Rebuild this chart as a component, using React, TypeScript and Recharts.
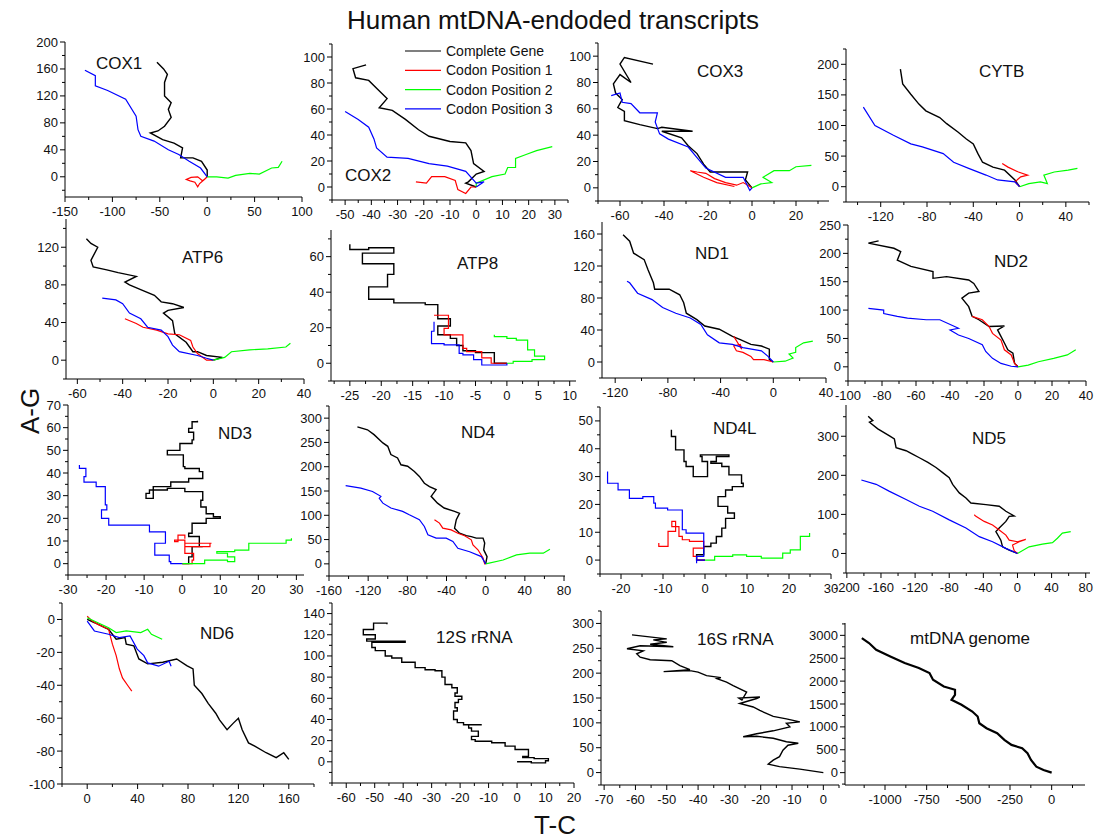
import { LineChart, Line, XAxis, YAxis } from 'recharts';

type Pt = [number, number];

// ---- series (T-C, A-G) ----
const cox1Gene: Pt[] = [[0,0],[0,10],[-6,23],[-15,28],[-28,28],[-26,43],[-35,50],[-47,55],[-60,65],[-52,68],[-45,75],[-38,88],[-41,100],[-38,110],[-45,120],[-45,140],[-42,152],[-46,160],[-53,170]];
const cox1Pos1: Pt[] = [[0,0],[-3,-4],[-8,-10],[-10,-15],[-13,-8],[-18,-6],[-22,-4],[-17,-1],[-10,0],[-5,-6],[-2,-3]];
const cox1Pos2: Pt[] = [[0,0],[10,0],[22,-2],[30,2],[45,5],[55,4],[68,13],[75,14],[79,23]];
const cox1Pos3: Pt[] = [[0,0],[-7,13],[-19,23],[-30,33],[-41,40],[-56,53],[-70,60],[-73,70],[-75,90],[-86,115],[-105,128],[-118,135],[-118,150],[-129,158]];

const cox2Gene: Pt[] = [[0,0],[-4,3],[-3,4],[0,10],[3,12],[-1,18],[-2,28],[-4,34],[-10,35],[-18,39],[-22,44],[-27,52],[-32,59],[-37,61],[-34,68],[-38,76],[-41,82],[-46,84],[-47,91],[-42,94]];
const cox2Pos1: Pt[] = [[0,0],[-2,0],[-4,-5],[-7,-2],[-8,5],[-12,8],[-17,8],[-19,3],[-23,4]];
const cox2Pos2: Pt[] = [[0,0],[0,3],[6,8],[11,10],[12,15],[15,15],[15,22],[19,25],[23,28],[29,31]];
const cox2Pos3: Pt[] = [[0,0],[3,4],[0,3],[-4,12],[-11,16],[-18,18],[-26,22],[-34,23],[-38,30],[-39,37],[-41,46],[-45,52],[-50,58]];

const cox3Gene: Pt[] = [[0,0],[-3,6],[-2,12],[-11,12],[-19,12],[-22,18],[-25,26],[-29,32],[-32,38],[-41,43],[-27,43],[-41,46],[-43,45],[-51,48],[-58,51],[-58,58],[-61,61],[-59,67],[-62,72],[-63,79],[-60,86],[-55,80],[-60,94],[-58,99],[-45,94]];
const cox3Pos1: Pt[] = [[0,0],[-4,4],[-7,2],[-12,4],[-17,7],[-21,11],[-25,12],[-28,13],[-22,8],[-16,4],[-8,1]];
const cox3Pos2: Pt[] = [[0,0],[4,3],[9,4],[5,8],[10,13],[17,13],[20,16],[27,17]];
const cox3Pos3: Pt[] = [[0,0],[-1,-2],[-4,8],[-12,8],[-21,15],[-25,23],[-29,31],[-38,37],[-42,41],[-44,50],[-43,57],[-51,57],[-55,64],[-59,65],[-60,72],[-64,70]];

const cytbGene: Pt[] = [[0,0],[-4,11],[-13,27],[-23,32],[-32,40],[-36,54],[-40,70],[-46,78],[-53,89],[-63,103],[-69,113],[-81,124],[-87,135],[-94,151],[-101,168],[-103,192]];
const cytbPos1: Pt[] = [[0,0],[-4,8],[1,16],[7,19],[-1,24],[-10,32],[-15,38]];
const cytbPos2: Pt[] = [[0,0],[8,5],[18,8],[24,5],[21,19],[30,24],[42,27],[50,30]];
const cytbPos3: Pt[] = [[0,0],[-4,8],[-19,11],[-29,19],[-44,30],[-57,40],[-66,54],[-84,65],[-94,70],[-109,84],[-125,100],[-135,130]];

const atp6Gene: Pt[] = [[0,0],[4,3],[-3,5],[-7,9],[-9,9],[-12,19],[-17,28],[-18,42],[-22,50],[-20,53],[-13,56],[-18,60],[-23,62],[-26,69],[-31,74],[-37,80],[-39,83],[-34,89],[-42,93],[-47,96],[-53,99],[-54,106],[-51,120],[-54,124],[-56,129]];
const atp6Pos1: Pt[] = [[0,0],[-3,0],[-7,7],[-9,14],[-10,21],[-15,27],[-20,28],[-25,32],[-31,35],[-34,39],[-39,44]];
const atp6Pos2: Pt[] = [[0,0],[5,3],[8,9],[16,11],[24,12],[32,14],[34,18]];
const atp6Pos3: Pt[] = [[0,0],[-3,2],[-7,5],[-15,9],[-18,16],[-20,25],[-23,32],[-29,35],[-32,44],[-37,50],[-40,60],[-43,64],[-49,66]];

const atp8Gene: Pt[] = [[0,0],[-2,0],[-2,6],[-5,7],[-7,10],[-8,14],[-9,16],[-11,21],[-9,25],[-11,30],[-11,33],[-13,34],[-18,36],[-20,36],[-22,38],[-22,43],[-19,46],[-19,50],[-18,52],[-18,56],[-21,56],[-23,62],[-18,65],[-22,64],[-25,67]];
const atp8Pos1: Pt[] = [[0,0],[-2.5,3],[-4,6.5],[-6.4,8.4],[-7,16],[-9.3,16],[-10,19.6],[-9.3,27],[-11.6,27]];
const atp8Pos2: Pt[] = [[0,0],[1,1],[4,2],[6,4],[4.4,7.5],[3.3,8.4],[3.3,13],[1.5,14],[0,15],[-2,16]];
const atp8Pos3: Pt[] = [[0,0],[0,-1],[-4,2],[-5.3,4.7],[-7,5.6],[-7.6,10.3],[-10,11],[-12,13],[-12,18],[-11.6,23.4]];

const nd1Gene: Pt[] = [[0,0],[-3,3],[-3,16],[-9,20],[-17,22],[-25,28],[-31,32],[-41,41],[-52,45],[-58,53],[-66,61],[-68,74],[-71,84],[-79,91],[-90,91],[-91,99],[-95,115],[-98,128],[-106,136],[-109,151],[-114,159]];
const nd1Pos1: Pt[] = [[0,0],[-7,3],[-15,3],[-17,7],[-23,12],[-28,14],[-30,20],[-25,22],[-24,16],[-30,32]];
const nd1Pos2: Pt[] = [[0,0],[9,1],[15,5],[12,10],[17,12],[17,18],[23,24],[30,26]];
const nd1Pos3: Pt[] = [[0,0],[-4,7],[-9,14],[-23,18],[-31,22],[-41,24],[-50,34],[-55,47],[-63,55],[-74,61],[-84,68],[-92,78],[-103,86],[-109,99],[-111,101]];

const nd2Gene: Pt[] = [[0,0],[-2,6],[-3,24],[-6,30],[-8,42],[-12,65],[-8,72],[-17,71],[-23,83],[-27,89],[-29,106],[-33,121],[-29,130],[-23,133],[-26,147],[-29,153],[-42,159],[-50,156],[-50,168],[-63,177],[-71,188],[-69,203],[-73,209],[-88,218],[-82,222]];
const nd2Pos1: Pt[] = [[0,0],[-2,6],[-4,21],[-8,30],[-10,47],[-15,59],[-17,71],[-21,83],[-27,89]];
const nd2Pos2: Pt[] = [[0,0],[6,3],[12,9],[21,15],[29,21],[34,30]];
const nd2Pos3: Pt[] = [[0,0],[-4,1],[-10,6],[-15,15],[-19,27],[-21,39],[-29,50],[-35,56],[-40,65],[-35,68],[-46,83],[-54,83],[-65,86],[-71,89],[-79,94],[-79,100],[-88,103]];

const nd3Gene: Pt[] = [[0,0],[1.7,3],[2.6,7.5],[5.4,7.5],[4.5,12],[1.7,13.4],[2.6,17.8],[6.3,20],[10,20.7],[8.2,22],[6.3,25],[4.9,28],[5.4,31.8],[0.7,33.2],[-3.9,32.5],[-8.6,31],[-9.5,28.8],[-7.6,34],[-3,36],[1.7,37.6],[5.4,40.6],[4.5,42],[0.7,42.8],[0.3,48],[-3.9,50],[-0.6,53],[2.6,54.6],[3,58],[1.7,59.7],[2.6,62.6],[4,63]];
const nd3Pos1: Pt[] = [[0,0],[2.6,1.6],[3,4.5],[0.7,6],[0.7,9],[4.5,9],[7.7,9],[7.3,7.5],[2.6,7.5],[0.7,10.4],[-2,9.7],[-1.1,12.6],[0.7,11]];
const nd3Pos2: Pt[] = [[0,0],[5.9,1.6],[11.9,0.9],[13.8,3],[11.9,4.6],[9.1,5.3],[13.8,6],[16.6,6],[17.5,9],[23,9],[26.8,9],[27.3,10.4],[28.7,11.2]];
const nd3Pos3: Pt[] = [[0,0],[-3,0.9],[-3.4,3.8],[-7.2,4.6],[-7.2,9],[-4.4,9.7],[-4.4,14],[-7.6,14],[-8.6,17],[-12.3,17],[-18.8,17],[-19.3,20],[-21.2,20],[-21.2,23.7],[-19.8,25.9],[-20.2,30],[-20.2,34],[-22,34],[-22.6,36],[-25.3,36],[-25.8,38.4],[-25.3,42],[-27,43.5]];

const nd4Gene: Pt[] = [[0,0],[1.4,15],[-2,29],[-1,43],[-2.7,53],[-9.6,53],[-14.7,56],[-19.8,58],[-26.7,63],[-31.8,73.5],[-30,91],[-26.7,104],[-31.8,108],[-42.4,115],[-49.2,125],[-55.7,139],[-50.6,153],[-57.4,159],[-62.6,166],[-67.7,180],[-72.8,190],[-79.7,201],[-86.5,204],[-90,218],[-96.8,225],[-100,242],[-105,249],[-114,266],[-120.7,276],[-131,282]];
const nd4Pos1: Pt[] = [[0,0],[-1,0],[-2.7,12],[-7.9,29],[-13,39],[-14.7,49.5],[-21.5,58],[-28.4,63],[-35.2,70],[-43.8,73.5],[-47.2,84],[-52.3,91]];
const nd4Pos2: Pt[] = [[0,0],[17.8,8],[31.5,18.6],[45,22],[58.8,22],[65.6,30]];
const nd4Pos3: Pt[] = [[0,0],[-4.4,15],[-16.4,25],[-28.4,32],[-33.5,46],[-40.3,53],[-50.6,53],[-59,60],[-62.6,77],[-67.7,91],[-78,101],[-84.8,108],[-96.8,115],[-105,125],[-108.7,135],[-107,139],[-115.6,149],[-127.5,156],[-143,161]];

const nd4lGene: Pt[] = [[0,0],[-2,0.7],[-2,1.9],[-0.3,4.9],[1.4,6.1],[2.7,8.5],[4,11.5],[4.9,15],[7,16.9],[5.4,19.3],[3.1,20.5],[3.1,22.8],[4.9,25.2],[6.5,26.4],[9.1,27.6],[8.7,30.6],[5.7,33.6],[4,34.8],[1.4,35.4],[2.7,37.2],[5.7,37.8],[-1.1,37.2],[-0.7,35.4],[0.6,30],[-2.8,30],[-2.8,33.6],[-4.5,35.4],[-5,39.6],[-7,44.4],[-8,46.8]];
const nd4lPos1: Pt[] = [[0,0],[-2,1.3],[-2.8,4.3],[-0.3,6.7],[-3.7,7.3],[-5.4,8.5],[-6.2,12],[-7.9,13.9],[-7,10.3],[-8.8,4.9],[-11,6.1]];
const nd4lPos2: Pt[] = [[0,0],[2.3,1.3],[6.6,1.9],[9.9,1.3],[13.4,0.7],[18.5,2.5],[20.3,3.7],[22.7,8.5],[24.9,9.7]];
const nd4lPos3: Pt[] = [[0,0],[-2,-1.1],[-2,1.3],[-0.3,3.1],[-0.3,9.7],[-4.5,10.9],[-5.4,18],[-8.9,18.7],[-11.8,20.5],[-12.2,22.8],[-14.8,22.2],[-18,25.2],[-20.7,27.6],[-23.2,31.8]];

const nd5Gene: Pt[] = [[0,0],[-9.7,8.6],[-17.5,17],[-19.5,34],[-25.3,56],[-21.4,65],[-13.6,82],[-9.7,95],[-3.9,96],[-13.6,108],[-21.4,121],[-37,125],[-54.6,129],[-60.4,142],[-68.2,155],[-76,177],[-80,194],[-87.7,207],[-95.5,220],[-105,233],[-115,245],[-123,254],[-130.6,263],[-142.3,271],[-144.3,293],[-150,301],[-163.7,319],[-173.5,336],[-169.6,340],[-175,351]];
const nd5Pos1: Pt[] = [[0,0],[-3.9,7],[-5.8,21.5],[2,30],[9.7,36],[0,30],[-9.7,34],[-13.6,47],[-21.4,60],[-29.2,73],[-39,82],[-48.7,95],[-50.7,99]];
const nd5Pos2: Pt[] = [[0,0],[13.6,17],[29.2,24],[41,27.6],[46.8,39],[52.6,52],[62.4,56]];
const nd5Pos3: Pt[] = [[0,0],[-13.6,13],[-29.2,30],[-44.8,43],[-60.4,65],[-80,86],[-99.4,108],[-115,121],[-130.6,138],[-150,159],[-165.7,177],[-183,188]];

const nd6Gene: Pt[] = [[0,0],[6,-2],[14,-5],[17,-6],[23,-12],[30,-11],[31,-15],[37,-16],[41,-24],[48,-27],[60,-26],[71,-24],[79,-28],[84,-30],[85,-40],[91,-45],[96,-51],[102,-57],[105,-61],[111,-67],[116,-63],[120,-60],[123,-67],[128,-75],[133,-77],[142,-81],[150,-84],[156,-81],[160,-85]];
const nd6Pos1: Pt[] = [[0,2],[4,-1],[8.5,-3],[17,-6],[20,-15],[23,-22],[25.5,-30],[28,-35.5],[32.6,-40.6],[35.4,-43.6]];
const nd6Pos2: Pt[] = [[0,1],[8.5,-2],[17,-5],[23,-8],[31,-7],[42.5,-8],[48,-6],[51,-9],[59.5,-12]];
const nd6Pos3: Pt[] = [[0,-1],[5.7,-7],[17,-9],[25.5,-11],[34,-10],[39.7,-18],[45,-22],[48,-26.4],[56.7,-28.4],[65,-25.4],[66.6,-28.4]];

const rrna12Gene: Pt[] = [[0,0],[5,-1],[10,1],[11,3],[6,4],[2,5],[4,11.6],[-0.7,14.8],[-4.2,18],[-8.9,19.5],[-14.7,21],[-16,24],[-13.6,29],[-16,32],[-17,35],[-12.4,35],[-18.8,37],[-21,40],[-22.3,48],[-21,51],[-21.8,56],[-20.6,59],[-19.4,62],[-21.8,65],[-21,70],[-22.9,73],[-25.3,75],[-25.3,80],[-26.4,86],[-28.8,87],[-32.3,89],[-35.8,94],[-40.5,98],[-44,100],[-46.3,105],[-49.8,108],[-51,113],[-39.3,114],[-47.5,114],[-52.8,116],[-49.8,120],[-54,125],[-50.4,127],[-50.4,131],[-45.7,130]];
const rrna16Gene: Pt[] = [[0,0],[-7.5,7],[-14,12],[-17.6,17],[-16,25],[-14,32],[-12.9,45],[-11.3,55],[-8,59],[-11.8,62],[-16,69],[-21.3,73],[-25.6,72],[-21.3,78],[-16,84],[-10.7,92],[-11.8,99],[-7.5,102],[-11.8,108],[-16,113],[-20.3,125],[-22.4,132],[-26.7,139],[-21.3,149],[-20.3,152],[-27,150],[-26,146],[-24.5,162],[-28.8,175],[-30.9,182],[-34,189],[-32.7,191],[-37.3,195],[-40,202],[-42.6,205],[-51,203],[-42.6,207],[-45.8,215],[-48.4,225],[-55.3,227],[-58.5,232],[-59.6,239],[-57.5,245],[-62.7,249],[-58.5,255],[-47.9,253],[-55.3,258],[-50,262],[-54.3,267],[-50,269],[-61.1,277]];
const mtGenome: Pt[] = [[0,0],[-49,58],[-92,131],[-124,277],[-145,423],[-177,533],[-241,606],[-284,715],[-327,861],[-391,971],[-434,1080],[-444,1226],[-476,1336],[-541,1482],[-601,1591],[-580,1701],[-580,1810],[-647,1883],[-712,2029],[-733,2175],[-797,2285],[-882,2394],[-968,2540],[-1053,2686],[-1096,2832],[-1139,2941]];

// ---- tick labels ----
const cox1XTicks = [-150, -100, -50, 0, 50, 100];
const cox1YTicks = [0, 40, 80, 120, 160, 200];
const cox2XTicks = [-50, -40, -30, -20, -10, 0, 10, 20, 30];
const cox2YTicks = [0, 20, 40, 60, 80, 100];
const cox3XTicks = [-60, -40, -20, 0, 20];
const cox3YTicks = [0, 20, 40, 60, 80, 100];
const cytbXTicks = [-120, -80, -40, 0, 40];
const cytbYTicks = [0, 50, 100, 150, 200];
const atp6XTicks = [-60, -40, -20, 0, 20, 40];
const atp6YTicks = [0, 40, 80, 120];
const atp8XTicks = [-25, -20, -15, -10, -5, 0, 5, 10];
const atp8YTicks = [0, 20, 40, 60];
const nd1XTicks = [-120, -80, -40, 0, 40];
const nd1YTicks = [0, 40, 80, 120, 160];
const nd2XTicks = [-100, -80, -60, -40, -20, 0, 20, 40];
const nd2YTicks = [0, 50, 100, 150, 200, 250];
const nd3XTicks = [-30, -20, -10, 0, 10, 20, 30];
const nd3YTicks = [0, 10, 20, 30, 40, 50, 60, 70];
const nd4XTicks = [-160, -120, -80, -40, 0, 40, 80];
const nd4YTicks = [0, 50, 100, 150, 200, 250, 300];
const nd4lXTicks = [-20, -10, 0, 10, 20, 30];
const nd4lYTicks = [0, 10, 20, 30, 40, 50];
const nd5XTicks = [-200, -160, -120, -80, -40, 0, 40, 80];
const nd5YTicks = [0, 100, 200, 300];
const nd6XTicks = [0, 40, 80, 120, 160];
const nd6YTicks = [-100, -80, -60, -40, -20, 0];
const rrna12XTicks = [-60, -50, -40, -30, -20, -10, 0, 10, 20];
const rrna12YTicks = [0, 20, 40, 60, 80, 100, 120, 140];
const rrna16XTicks = [-70, -60, -50, -40, -30, -20, -10, 0];
const rrna16YTicks = [0, 50, 100, 150, 200, 250, 300];
const mtXTicks = [-1000, -750, -500, -250, 0];
const mtYTicks = [0, 500, 1000, 1500, 2000, 2500, 3000];

const seriesNames = ['Complete Gene', 'Codon Position 1', 'Codon Position 2', 'Codon Position 3'];
const seriesColors = ['#000000', '#ff0000', '#00ff00', '#0000ff'];

const FONT = '"Liberation Sans", Arial, sans-serif';

type Panel = {
  name: string;
  box: [number, number, number, number];
  xDomain: [number, number];
  yDomain: [number, number];
  xTicks: number[];
  yTicks: number[];
  series: Pt[][];
  label: [number, number];
  curve: 'linear' | 'stepAfter';
  weight?: number;
};

const panels: Panel[] = [
  { name: 'COX1', box: [65, 42, 302, 197], xDomain: [-150, 100], yDomain: [-30, 200], xTicks: cox1XTicks, yTicks: cox1YTicks, series: [cox1Gene, cox1Pos1, cox1Pos2, cox1Pos3], label: [96, 63], curve: 'linear' },
  { name: 'COX2', box: [332, 44, 568, 200], xDomain: [-55, 35], yDomain: [-10, 110], xTicks: cox2XTicks, yTicks: cox2YTicks, series: [cox2Gene, cox2Pos1, cox2Pos2, cox2Pos3], label: [345, 175], curve: 'linear' },
  { name: 'COX3', box: [598, 43, 829, 201], xDomain: [-70, 35], yDomain: [-10, 110], xTicks: cox3XTicks, yTicks: cox3YTicks, series: [cox3Gene, cox3Pos1, cox3Pos2, cox3Pos3], label: [697, 71], curve: 'linear' },
  { name: 'CYTB', box: [846, 49, 1089, 202], xDomain: [-150, 60], yDomain: [-25, 225], xTicks: cytbXTicks, yTicks: cytbYTicks, series: [cytbGene, cytbPos1, cytbPos2, cytbPos3], label: [979, 71], curve: 'linear' },
  { name: 'ATP6', box: [66, 219, 304, 379], xDomain: [-65, 40], yDomain: [-20, 150], xTicks: atp6XTicks, yTicks: atp6YTicks, series: [atp6Gene, atp6Pos1, atp6Pos2, atp6Pos3], label: [182, 257], curve: 'linear' },
  { name: 'ATP8', box: [331, 230, 576, 381], xDomain: [-28, 11], yDomain: [-10, 75], xTicks: atp8XTicks, yTicks: atp8YTicks, series: [atp8Gene, atp8Pos1, atp8Pos2, atp8Pos3], label: [457, 263], curve: 'stepAfter' },
  { name: 'ND1', box: [602, 222, 826, 378], xDomain: [-130, 40], yDomain: [-20, 175], xTicks: nd1XTicks, yTicks: nd1YTicks, series: [nd1Gene, nd1Pos1, nd1Pos2, nd1Pos3], label: [695, 253], curve: 'linear' },
  { name: 'ND2', box: [848, 225, 1086, 381], xDomain: [-100, 40], yDomain: [-25, 250], xTicks: nd2XTicks, yTicks: nd2YTicks, series: [nd2Gene, nd2Pos1, nd2Pos2, nd2Pos3], label: [994, 261], curve: 'linear' },
  { name: 'ND3', box: [68, 405, 304, 575], xDomain: [-30, 32], yDomain: [-5, 70], xTicks: nd3XTicks, yTicks: nd3YTicks, series: [nd3Gene, nd3Pos1, nd3Pos2, nd3Pos3], label: [218, 433], curve: 'stepAfter' },
  { name: 'ND4', box: [329, 406, 565, 576], xDomain: [-160, 81], yDomain: [-25, 325], xTicks: nd4XTicks, yTicks: nd4YTicks, series: [nd4Gene, nd4Pos1, nd4Pos2, nd4Pos3], label: [461, 432], curve: 'linear' },
  { name: 'ND4L', box: [600, 407, 831, 574], xDomain: [-25, 30], yDomain: [-5, 55], xTicks: nd4lXTicks, yTicks: nd4lYTicks, series: [nd4lGene, nd4lPos1, nd4lPos2, nd4lPos3], label: [713, 428], curve: 'stepAfter' },
  { name: 'ND5', box: [846, 405, 1090, 573], xDomain: [-201, 85], yDomain: [-50, 380], xTicks: nd5XTicks, yTicks: nd5YTicks, series: [nd5Gene, nd5Pos1, nd5Pos2, nd5Pos3], label: [972, 438], curve: 'linear' },
  { name: 'ND6', box: [62, 603, 314, 784], xDomain: [-20, 180], yDomain: [-100, 10], xTicks: nd6XTicks, yTicks: nd6YTicks, series: [nd6Gene, nd6Pos1, nd6Pos2, nd6Pos3], label: [200, 633], curve: 'linear' },
  { name: '12S rRNA', box: [332, 603, 574, 783], xDomain: [-65, 20], yDomain: [-20, 150], xTicks: rrna12XTicks, yTicks: rrna12YTicks, series: [rrna12Gene], label: [436, 637], curve: 'stepAfter' },
  { name: '16S rRNA', box: [601, 611, 839, 785], xDomain: [-71, 5], yDomain: [-25, 325], xTicks: rrna16XTicks, yTicks: rrna16YTicks, series: [rrna16Gene], label: [697, 639], curve: 'linear' },
  { name: 'mtDNA genome', box: [845, 623, 1085, 785], xDomain: [-1240, 200], yDomain: [-270, 3270], xTicks: mtXTicks, yTicks: mtYTicks, series: [mtGenome], label: [910, 638], curve: 'linear', weight: 2.2 },
];

// major ticks plus one minor tick between each pair
function withMinor(major: number[], domain: [number, number]) {
  const step = major[1] - major[0];
  const out: number[] = [];
  for (let v = major[0] - step; v <= major[major.length - 1] + step; v += step / 2) {
    if (v >= domain[0] - 1e-9 && v <= domain[1] + 1e-9) out.push(v);
  }
  return out;
}

function XTick(props: any) {
  const { x, y, payload, majors } = props;
  const major = majors.includes(payload.value);
  return (
    <g>
      <line x1={x} x2={x} y1={y} y2={y + (major ? 5 : 3)} stroke="#000" />
      {major && (
        <text x={x} y={y + 19} textAnchor="middle" fontSize={13} fontFamily={FONT} fill="#111">
          {payload.value}
        </text>
      )}
    </g>
  );
}

function YTick(props: any) {
  const { x, y, payload, majors } = props;
  const major = majors.includes(payload.value);
  return (
    <g>
      <line x1={x - (major ? 5 : 3)} x2={x} y1={y} y2={y} stroke="#000" />
      {major && (
        <text x={x - 7} y={y + 4.5} textAnchor="end" fontSize={13} fontFamily={FONT} fill="#111">
          {payload.value}
        </text>
      )}
    </g>
  );
}

const YW = 46;
const XH = 28;
const PAD_T = 10;
const PAD_R = 24;

function PanelChart({ p }: { p: Panel }) {
  const [l, t, r, b] = p.box;
  const width = r - l + YW + PAD_R;
  const height = b - t + PAD_T + XH;
  return (
    <div style={{ position: 'absolute', left: l - YW, top: t - PAD_T, width, height }}>
      <LineChart width={width} height={height} margin={{ top: PAD_T, right: PAD_R, bottom: 0, left: 0 }}>
        <XAxis
          type="number"
          dataKey="x"
          domain={p.xDomain}
          allowDataOverflow
          ticks={withMinor(p.xTicks, p.xDomain)}
          interval={0}
          tickSize={0}
          tickMargin={0}
          tickLine={false}
          height={XH}
          stroke="#000"
          tick={(props: any) => <XTick {...props} majors={p.xTicks} />}
        />
        <YAxis
          type="number"
          domain={p.yDomain}
          allowDataOverflow
          ticks={withMinor(p.yTicks, p.yDomain)}
          interval={0}
          tickSize={0}
          tickMargin={0}
          tickLine={false}
          width={YW}
          stroke="#000"
          tick={(props: any) => <YTick {...props} majors={p.yTicks} />}
        />
        {p.series.map((s, i) => (
          <Line
            key={i}
            data={s.map(([x, y]) => ({ x, y }))}
            dataKey="y"
            type={p.curve}
            stroke={seriesColors[i]}
            strokeWidth={p.weight ?? (i === 0 ? 1.4 : 1.2)}
            dot={false}
            activeDot={false}
            isAnimationActive={false}
          />
        ))}
      </LineChart>
    </div>
  );
}

export default function App() {
  return (
    <div style={{ position: 'absolute', left: 0, top: 0, width: 1095, height: 840, background: '#fff', fontFamily: FONT }}>
      {panels.map((p) => (
        <PanelChart key={p.name} p={p} />
      ))}
      <svg width={1095} height={840} style={{ position: 'absolute', left: 0, top: 0, pointerEvents: 'none' }}>
        <text x={553} y={29} textAnchor="middle" fontSize={26} fontFamily={FONT} fill="#111">
          Human mtDNA-endoded transcripts
        </text>
        <text transform="translate(39,411) rotate(-90)" textAnchor="middle" fontSize={26} fontFamily={FONT} fill="#111">
          A-G
        </text>
        <text x={555} y={834} textAnchor="middle" fontSize={26} fontFamily={FONT} fill="#111">
          T-C
        </text>
        {panels.map((p) => (
          <text key={p.name} x={p.label[0]} y={p.label[1] + 6} fontSize={17} fontFamily={FONT} fill="#111">
            {p.name}
          </text>
        ))}
        {seriesNames.map((n, i) => (
          <g key={n}>
            <line x1={405} x2={441} y1={51 + i * 19.3} y2={51 + i * 19.3} stroke={seriesColors[i]} strokeWidth={1.2} />
            <text x={446} y={51 + i * 19.3 + 5} fontSize={14} fontFamily={FONT} fill="#111">
              {n}
            </text>
          </g>
        ))}
      </svg>
    </div>
  );
}
